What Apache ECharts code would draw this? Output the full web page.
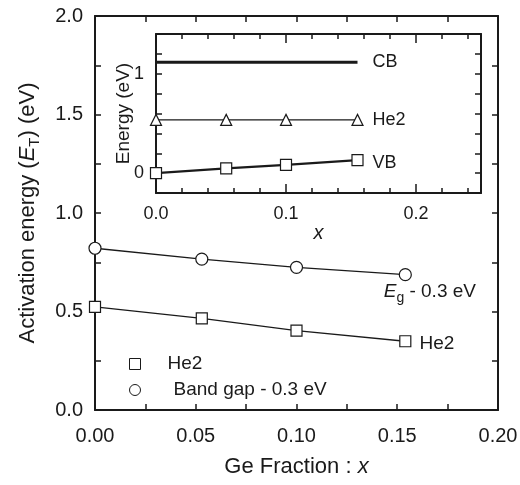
<!DOCTYPE html>
<html>
<head>
<meta charset="utf-8">
<script src="https://cdn.jsdelivr.net/npm/echarts@6/dist/echarts.min.js"></script>
<style>
  html, body { margin: 0; padding: 0; background: #fff; }
  #chart { width: 520px; height: 485px; }
</style>
</head>
<body>
<div id="chart"></div>
<script>
// main plot: activation energy vs Ge fraction
var heX = [0, 0.053, 0.1, 0.154];
var heE = [0.523, 0.465, 0.403, 0.349];
var gapX = [0, 0.053, 0.1, 0.154];
var gapE = [0.821, 0.766, 0.724, 0.687];

// inset: band edges and He2 level
var insX = [0, 0.054, 0.1, 0.155];
var cbE = [1.115, 1.115, 1.115, 1.115];
var he2E = [0.536, 0.536, 0.536, 0.536];
var vbE = [0.0, 0.047, 0.083, 0.13];

function zip(xs, ys) {
  return xs.map(function (x, i) { return [x, ys[i]]; });
}

var ink = '#1a1a1a';
var font = '"Liberation Sans", Arial, sans-serif';

var chart = echarts.init(document.getElementById('chart'));

function frameAxis(extra) {
  var a = {
    type: 'value',
    splitLine: { show: false },
    axisLine: { show: true, onZero: false, lineStyle: { color: ink, width: 2 } },
    axisTick: { show: true, inside: true, length: 6, lineStyle: { color: ink, width: 1.5 } },
    axisLabel: { show: false }
  };
  for (var k in extra) a[k] = extra[k];
  return a;
}

var heData = zip(heX, heE);
heData[heData.length - 1] = {
  value: heData[heData.length - 1],
  label: { show: true, position: 'right', distance: 8, offset: [0, 3], formatter: 'He2',
    fontSize: 19, color: ink, fontFamily: font }
};
var gapData = zip(gapX, gapE);
gapData[gapData.length - 1] = {
  value: gapData[gapData.length - 1],
  label: { show: true, position: [-15, 11], formatter: '{i|E}{sub|g} - 0.3 eV',
    fontSize: 19, lineHeight: 26, color: ink, fontFamily: font,
    rich: { i: { fontStyle: 'italic' }, sub: { fontSize: 14, lineHeight: 14, verticalAlign: 'bottom' } } }
};

var option = {
  animation: false,
  textStyle: { fontFamily: font, color: ink },
  grid: [
    { left: 95, top: 16, width: 403, height: 394, outerBoundsMode: 'none' },
    { left: 156, top: 34, width: 325, height: 159, outerBoundsMode: 'none' }
  ],
  legend: {
    orient: 'vertical',
    left: 124, top: 349,
    itemWidth: 11, itemHeight: 11, itemGap: 6,
    itemStyle: { color: '#fff', borderColor: ink, borderWidth: 1 },
    textStyle: { fontSize: 19, lineHeight: 20, color: ink, fontFamily: font },
    selectedMode: false,
    data: [
      { name: 'He2', icon: 'rect', textStyle: { padding: [0, 0, 0, 22] } },
      { name: 'Band gap - 0.3 eV', icon: 'circle', textStyle: { padding: [0, 0, 0, 28] } }
    ]
  },
  xAxis: [
    frameAxis({
      gridIndex: 0, min: 0, max: 0.2, interval: 0.05, position: 'bottom',
      minorTick: { show: true, splitNumber: 2, length: 6, lineStyle: { color: ink, width: 1.5 } },
      axisLabel: { show: true, fontSize: 20, margin: 16, color: ink,
        formatter: function (v) { return v.toFixed(2); } },
      name: 'Ge Fraction : {i|x}', nameLocation: 'middle', nameGap: 46,
      nameTextStyle: { fontSize: 22, color: ink, rich: { i: { fontStyle: 'italic', fontSize: 22 } } }
    }),
    frameAxis({
      gridIndex: 0, min: 0, max: 0.2, interval: 0.05, position: 'top',
      minorTick: { show: true, splitNumber: 2, length: 6, lineStyle: { color: ink, width: 1.5 } }
    }),
    frameAxis({
      gridIndex: 1, min: 0, max: 0.25, interval: 0.1, position: 'bottom',
      axisTick: { show: true, inside: true, length: 9, lineStyle: { color: ink, width: 1.5 } },
      axisLabel: { show: true, fontSize: 18, margin: 12, color: ink,
        formatter: function (v) { return v > 0.24 ? '' : v.toFixed(1); } },
      name: '{i|x}', nameLocation: 'middle', nameGap: 28,
      nameTextStyle: { fontSize: 20, color: ink, rich: { i: { fontStyle: 'italic', fontSize: 20 } } }
    }),
    frameAxis({
      gridIndex: 1, min: 0, max: 0.25, interval: 0.1, position: 'top',
      axisTick: { show: true, inside: true, length: 9, lineStyle: { color: ink, width: 1.5 } }
    }),
    // short ticks every 0.02 on the inset frame
    frameAxis({ gridIndex: 1, min: 0, max: 0.25, interval: 0.02, position: 'bottom',
      axisLine: { show: false, onZero: false },
      axisTick: { show: true, inside: true, length: 5, lineStyle: { color: ink, width: 1.5 } } }),
    frameAxis({ gridIndex: 1, min: 0, max: 0.25, interval: 0.02, position: 'top',
      axisLine: { show: false, onZero: false },
      axisTick: { show: true, inside: true, length: 5, lineStyle: { color: ink, width: 1.5 } } })
  ],
  yAxis: [
    frameAxis({
      gridIndex: 0, min: 0, max: 2, interval: 0.5, position: 'left',
      minorTick: { show: true, splitNumber: 2, length: 6, lineStyle: { color: ink, width: 1.5 } },
      axisLabel: { show: true, fontSize: 20, margin: 12, color: ink,
        formatter: function (v) { return v.toFixed(1); } },
      name: 'Activation energy ({i|E}{sub|T}) (eV)', nameLocation: 'middle', nameRotate: 90, nameGap: 53,
      nameTextStyle: { fontSize: 22, lineHeight: 28, color: ink,
        rich: { i: { fontStyle: 'italic', fontSize: 22 }, sub: { fontSize: 15, lineHeight: 15, verticalAlign: 'bottom' } } }
    }),
    frameAxis({
      gridIndex: 0, min: 0, max: 2, interval: 0.5, position: 'right',
      minorTick: { show: true, splitNumber: 2, length: 6, lineStyle: { color: ink, width: 1.5 } }
    }),
    frameAxis({
      gridIndex: 1, min: -0.2, max: 1.4, interval: 0.2, position: 'left',
      axisLabel: { show: true, fontSize: 18, margin: 12, color: ink,
        formatter: function (v) {
          var r = Math.round(v);
          return Math.abs(v - r) < 1e-6 && (r === 0 || r === 1) ? String(r) : '';
        } },
      name: 'Energy (eV)', nameLocation: 'middle', nameRotate: 90, nameGap: 22,
      nameMoveOverlap: false,
      nameTextStyle: { fontSize: 19, lineHeight: 20, color: ink }
    }),
    frameAxis({ gridIndex: 1, min: -0.2, max: 1.4, interval: 0.2, position: 'right' })
  ],
  series: [
    {
      name: 'He2', type: 'line', xAxisIndex: 0, yAxisIndex: 0,
      data: heData,
      symbol: 'rect', symbolSize: 11,
      itemStyle: { color: '#fff', borderColor: ink, borderWidth: 1.2 },
      lineStyle: { color: ink, width: 1.3 },
      z: 3
    },
    {
      name: 'Band gap - 0.3 eV', type: 'line', xAxisIndex: 0, yAxisIndex: 0,
      data: gapData,
      symbol: 'circle', symbolSize: 12,
      itemStyle: { color: '#fff', borderColor: ink, borderWidth: 1.2 },
      lineStyle: { color: ink, width: 1.3 },
      z: 3
    },
    {
      name: 'CB', type: 'line', xAxisIndex: 2, yAxisIndex: 2,
      data: zip(insX, cbE),
      symbol: 'none',
      lineStyle: { color: ink, width: 3 },
      endLabel: { show: true, formatter: 'CB', distance: 15, fontSize: 18, color: ink, fontFamily: font }
    },
    {
      name: 'He2 level', type: 'line', xAxisIndex: 2, yAxisIndex: 2,
      data: zip(insX, he2E),
      symbol: 'triangle', symbolSize: 11,
      itemStyle: { color: '#fff', borderColor: ink, borderWidth: 1.2 },
      lineStyle: { color: ink, width: 1.2 },
      endLabel: { show: true, formatter: 'He2', distance: 15, fontSize: 18, color: ink, fontFamily: font }
    },
    {
      name: 'VB', type: 'line', xAxisIndex: 2, yAxisIndex: 2,
      data: zip(insX, vbE),
      symbol: 'rect', symbolSize: 11,
      itemStyle: { color: '#fff', borderColor: ink, borderWidth: 1.2 },
      lineStyle: { color: ink, width: 2.2 },
      endLabel: { show: true, formatter: 'VB', distance: 15, offset: [0, 3], fontSize: 18, color: ink, fontFamily: font },
      z: 3
    }
  ]
};

chart.setOption(option);
</script>
</body>
</html>
